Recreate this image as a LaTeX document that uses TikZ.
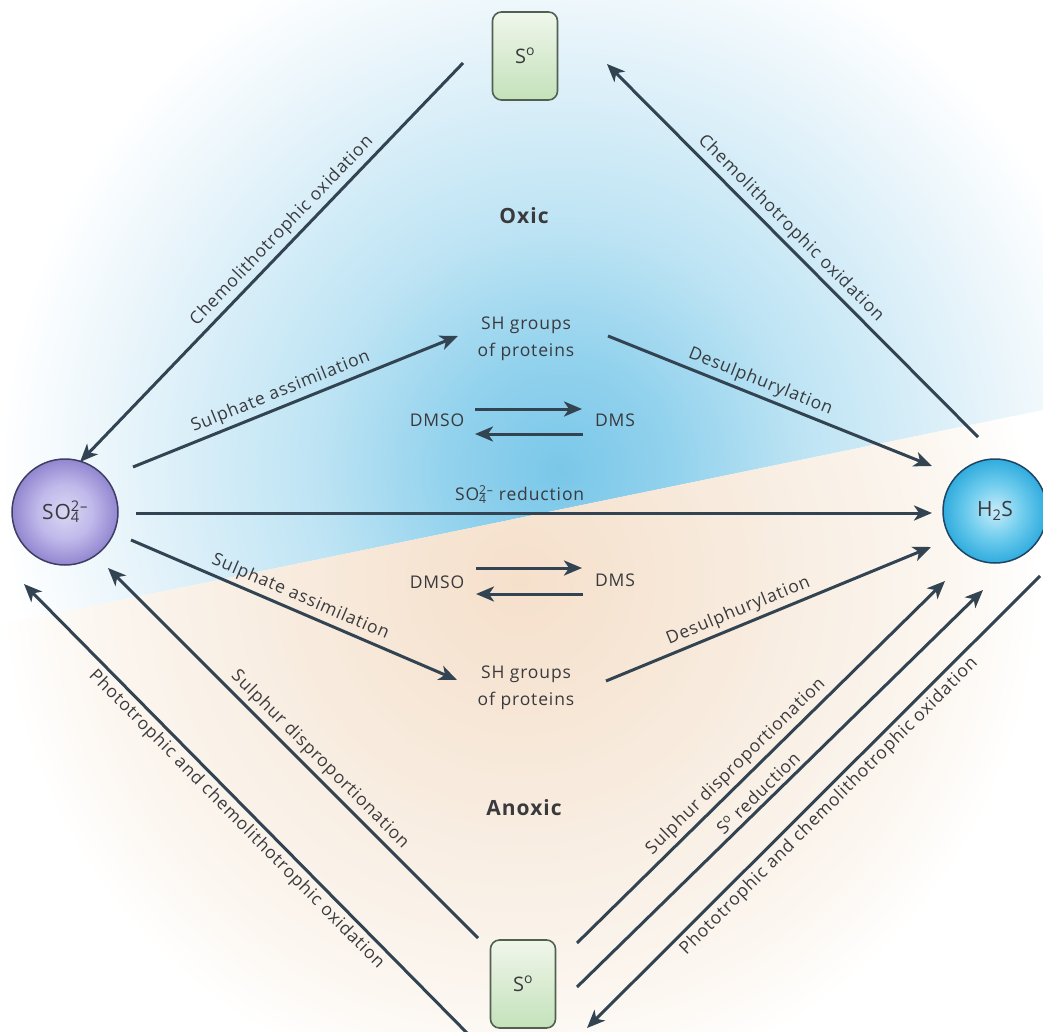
\documentclass[tikz,border=0pt]{standalone}
\usepackage{fontspec}
\setmainfont{Open Sans}[LetterSpace=5]
\usetikzlibrary{arrows.meta,calc}
\definecolor{arrowc}{RGB}{50,68,82}
\definecolor{txtc}{RGB}{58,58,62}
\definecolor{ox1}{RGB}{122,199,233}
\definecolor{ox2}{RGB}{146,210,237}
\definecolor{ox3}{RGB}{190,228,244}
\definecolor{ox4}{RGB}{229,243,250}
\definecolor{an1}{RGB}{245,224,203}
\definecolor{an2}{RGB}{247,231,215}
\definecolor{an3}{RGB}{249,240,230}
\definecolor{an4}{RGB}{252,247,241}
\definecolor{so4in}{RGB}{218,215,244}
\definecolor{so4mid}{RGB}{192,185,234}
\definecolor{so4out}{RGB}{146,134,208}
\definecolor{so4b}{RGB}{62,62,100}
\definecolor{h2sin}{RGB}{200,236,249}
\definecolor{h2smid}{RGB}{112,205,238}
\definecolor{h2sout}{RGB}{48,172,222}
\definecolor{h2sb}{RGB}{30,70,100}
\definecolor{boxtop}{RGB}{240,246,235}
\definecolor{boxbot}{RGB}{196,226,186}
\definecolor{boxb}{RGB}{82,96,82}
\pgfdeclareradialshading{oxicsh}{\pgfpoint{0bp}{0bp}}{color(0bp)=(ox1); color(5bp)=(ox2); color(11bp)=(ox3); color(19bp)=(ox4); color(25bp)=(white); color(50bp)=(white)}
\pgfdeclareradialshading{anoxsh}{\pgfpoint{0bp}{0bp}}{color(0bp)=(an1); color(7bp)=(an2); color(15bp)=(an3); color(21bp)=(an4); color(25bp)=(white); color(50bp)=(white)}
\pgfdeclareradialshading{so4sh}{\pgfpoint{0bp}{0bp}}{color(0bp)=(so4in); color(13bp)=(so4mid); color(25bp)=(so4out); color(50bp)=(so4out)}
\pgfdeclareradialshading{h2ssh}{\pgfpoint{0bp}{0bp}}{color(0bp)=(h2sin); color(13bp)=(h2smid); color(25bp)=(h2sout); color(50bp)=(h2sout)}
\tikzset{
  arr/.style={draw=arrowc, line width=3pt, -{Stealth[length=18pt,width=15pt,inset=5pt]}},
  lbl/.style={sloped, text=txtc, inner sep=4pt},
  txt/.style={text=txtc, inner sep=2pt},
  s0box/.style={draw=boxb, line width=1.6pt, rounded corners=9pt, minimum width=65pt, minimum height=88pt, top color=boxtop, bottom color=boxbot, inner sep=0pt, text=txtc, font=\fontsize{20}{24}\selectfont},
  ball/.style={circle, line width=1.5pt, inner sep=0pt, text=txtc, font=\fontsize{21}{24}\selectfont},
  zone/.style={text=txtc, font=\fontsize{21}{24}\selectfont\bfseries}
}
\begin{document}
\begin{tikzpicture}[x=1pt,y=-1pt,font=\fontsize{17.5}{26.5}\selectfont]
\useasboundingbox (0,0) rectangle (1043,1032);
% background
\begin{scope}
\clip (0,0) -- (1043,0) -- (1043,410) -- (0,625) -- cycle;
\shade[shading=oxicsh] (560,470) circle[radius=560pt];
\end{scope}
\begin{scope}
\clip (0,625) -- (1043,410) -- (1043,1032) -- (0,1032) -- cycle;
\shade[shading=anoxsh] (520,580) circle[radius=520pt];
\end{scope}
% main nodes
\node[ball, draw=so4b, minimum size=106pt, shade, shading=so4sh] (SO4) at (65,512) {SO\rlap{\textsubscript{4}}\textsuperscript{2–}};
\node[ball, draw=h2sb, minimum size=104pt, shade, shading=h2ssh] (H2S) at (995,511) {H\textsubscript{2}S};
\node[s0box] (S0t) at (525,56) {S\textsuperscript{o}};
\node[s0box] (S0b) at (523,984) {S\textsuperscript{o}};
\node[zone] (oxic) at (524,216) {Oxic};
\node[zone] (anoxic) at (524,808) {Anoxic};
\node[txt, align=center] (SHo) at (526,339) {SH groups\\of proteins};
\node[txt, align=center] (SHa) at (526,688) {SH groups\\of proteins};
\node[txt] (DMSOo) at (437,420) {DMSO};
\node[txt] (DMSo) at (615,420) {DMS};
\node[txt] (DMSOa) at (437,582) {DMSO};
\node[txt] (DMSa) at (615,580) {DMS};
% connectors
\draw[arr] ($(S0t)+(-62,7)$) -- node[lbl, above, pos=.446] (L1) {Chemolithotrophic oxidation} ($(SO4)+(15,-50)$);
\draw[arr] ($(H2S)+(-17,-74)$) -- node[lbl, above, pos=.532] (L2) {Chemolithotrophic oxidation} ($(S0t)+(82,8)$);
\draw[arr] ($(SO4)+(68,-45)$) -- node[lbl, above, pos=.471] (L3) {Sulphate assimilation} ($(SHo)+(-68,-3)$);
\draw[arr] ($(SHo)+(82,-3)$) -- node[lbl, above, pos=.454] (L4) {Desulphurylation} ($(H2S)+(-63,-45)$);
\draw[arr] ($(SO4)+(71,1)$) -- node[lbl, above=6pt, pos=.482, inner sep=2pt] (L5) {SO\rlap{\textsubscript{4}}\textsuperscript{2–} reduction} ($(H2S)+(-63,2)$);
\draw[arr] ($(SO4)+(66,28)$) -- node[lbl, above, pos=.502] (L6) {Sulphate assimilation} ($(SHa)+(-69,-8)$);
\draw[arr] ($(SHa)+(80,-7)$) -- node[lbl, above, pos=.424] (L7) {Desulphurylation} ($(H2S)+(-64,36)$);
\draw[arr] ($(DMSOo)+(38,-11)$) -- ($(DMSo)+(-33,-11)$);
\draw[arr] ($(DMSo)+(-32,14)$) -- ($(DMSOo)+(38,14)$);
\draw[arr] ($(DMSOa)+(39,-14)$) -- ($(DMSa)+(-33,-12)$);
\draw[arr] ($(DMSa)+(-32,14)$) -- ($(DMSOa)+(39,12)$);
\draw[arr] ($(S0b)+(-45,-46)$) -- node[lbl, above, pos=.455] (L8) {Sulphur disproportionation} ($(SO4)+(43,56)$);
\draw[arr] ($(S0b)+(-53,52)$) -- node[lbl, below, pos=.501] (L9) {Phototrophic and chemolithotrophic oxidation} ($(SO4)+(-41,72)$);
\draw[arr] ($(S0b)+(54,-41)$) -- node[lbl, above, pos=.459] (L10) {Sulphur disproportionation} ($(H2S)+(-50,70)$);
\draw[arr] ($(S0b)+(54,3)$) -- node[lbl, above, pos=.467] (L11) {S\textsuperscript{o} reduction} ($(H2S)+(-12,79)$);
\draw[arr] ($(H2S)+(45,65)$) -- node[lbl, below, pos=.488] (L12) {Phototrophic and chemolithotrophic oxidation} ($(S0b)+(64,44)$);
\end{tikzpicture}
\end{document}
